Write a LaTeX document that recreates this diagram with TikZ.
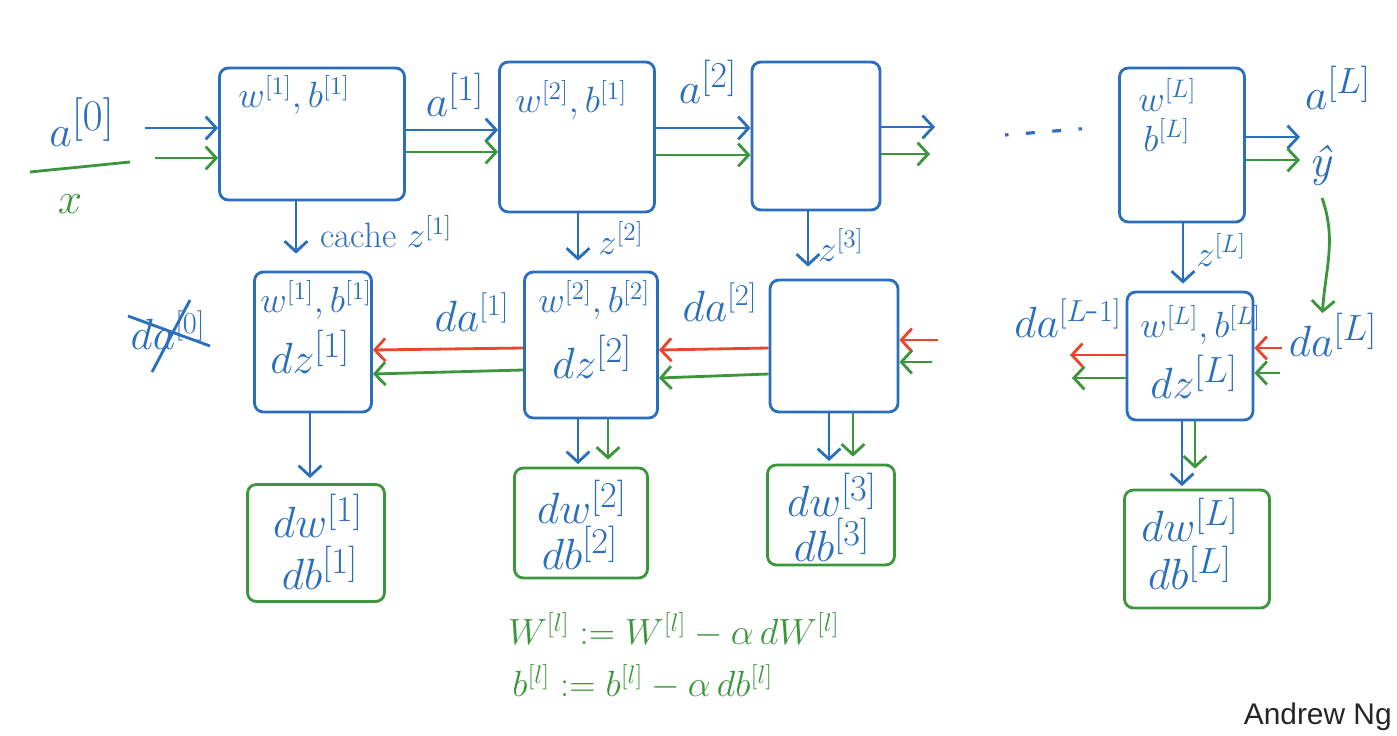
\documentclass[tikz,border=0pt]{standalone}
\usepackage{fontspec}
\newfontfamily\ngfont{Liberation Sans}
\usetikzlibrary{arrows.meta}
\definecolor{nblue}{RGB}{42,110,190}
\definecolor{ngreen}{RGB}{60,150,60}
\definecolor{nred}{RGB}{232,70,45}
\tikzset{
  bbox/.style={draw=nblue, line width=1.6pt, rounded corners=5pt, inner sep=0pt},
  gbox/.style={draw=ngreen, line width=1.6pt, rounded corners=5pt, inner sep=0pt},
  tip/.style={-{Straight Barb[length=6pt,width=13pt]}},
  barrow/.style={tip, draw=nblue, line width=1.6pt},
  garrow/.style={tip, draw=ngreen, line width=1.6pt},
  rarrow/.style={tip, draw=nred, line width=1.6pt},
  bt/.style={text=nblue, inner sep=0pt, font=\fontsize{22}{26}\selectfont},
  btl/.style={text=nblue, inner sep=0pt, font=\fontsize{28}{32}\selectfont},
  gt/.style={text=ngreen, inner sep=0pt, font=\fontsize{22}{26}\selectfont},
}
\begin{document}
\begin{tikzpicture}[x=0.02cm,y=-0.02cm]
\fill[white] (0,0) rectangle (1397,736);
\useasboundingbox (0,0) rectangle (1397,736);

% forward boxes
\node[bbox, minimum width=3.7cm, minimum height=2.64cm] (F1) at (312,134) {};
\node[bbox, minimum width=3.1cm, minimum height=3.0cm] (F2) at (577,137) {};
\node[bbox, minimum width=2.56cm, minimum height=2.96cm] (F3) at (816,136) {};
\node[bbox, minimum width=2.5cm, minimum height=3.08cm] (FL) at (1182,145) {};
% backward boxes
\node[bbox, minimum width=2.34cm, minimum height=2.8cm] (B1) at (313,342) {};
\node[bbox, minimum width=2.66cm, minimum height=2.92cm] (B2) at (591,345) {};
\node[bbox, minimum width=2.56cm, minimum height=2.64cm] (B3) at (834,346) {};
\node[bbox, minimum width=2.52cm, minimum height=2.56cm] (BL) at (1190,356) {};
% gradient boxes
\node[gbox, minimum width=2.74cm, minimum height=2.34cm] (G1) at (316,543) {};
\node[gbox, minimum width=2.66cm, minimum height=2.2cm] (G2) at (581,523) {};
\node[gbox, minimum width=2.54cm, minimum height=2.0cm] (G3) at (831,515) {};
\node[gbox, minimum width=2.9cm, minimum height=2.36cm] (GL) at (1197,549) {};

% box texts
\node[bt, anchor=west] (tF1) at (238,95) {$w^{[1]}, b^{[1]}$};
\node[bt, anchor=west] (tF2) at (515,100) {$w^{[2]}, b^{[1]}$};
\node[bt, anchor=west] (tFLw) at (1138,95) {$w^{[L]}$};
\node[bt, anchor=west] (tFLb) at (1143,135) {$b^{[L]}$};
\node[bt, anchor=west] (tB1) at (260,300) {$w^{[1]}, b^{[1]}$};
\node[btl, anchor=west] (dB1) at (270,352) {$dz^{[1]}$};
\node[bt, anchor=west] (tB2) at (538,300) {$w^{[2]}, b^{[2]}$};
\node[btl, anchor=west] (dB2) at (552,357) {$dz^{[2]}$};
\node[bt, anchor=west] (tBL) at (1140,325) {$w^{[L]}, b^{[L]}$};
\node[btl, anchor=west] (dBL) at (1150,377) {$dz^{[L]}$};
\node[btl] (w1) at (318,516) {$dw^{[1]}$};
\node[btl] (b1) at (320,568) {$db^{[1]}$};
\node[btl] (w2) at (582,502) {$dw^{[2]}$};
\node[btl] (b2) at (580,548) {$db^{[2]}$};
\node[btl] (w3) at (832,495) {$dw^{[3]}$};
\node[btl] (b3) at (832,540) {$db^{[3]}$};
\node[btl] (wL) at (1190,520) {$dw^{[L]}$};
\node[btl] (bL) at (1190,568) {$db^{[L]}$};

% input
\node[text=nblue, inner sep=0pt, font=\fontsize{36}{40}\selectfont] (A0) at (82,122) {$a^{[0]}$};
\draw[ngreen, line width=1.6pt] (30,172) -- (130,162);
\node[text=ngreen, inner sep=0pt, font=\fontsize{30}{34}\selectfont] (X) at (70,204) {$x$};
\coordinate (in0b) at (145,128);
\coordinate (in0g) at (155,158);
\draw[barrow] (in0b) -- (F1.west |- in0b);
\draw[garrow] (in0g) -- (F1.west |- in0g);

% forward arrows
\draw[barrow] (F1.east |- 0,130) -- (F2.west |- 0,130);
\draw[garrow] (F1.east |- 0,152) -- (F2.west |- 0,152);
\draw[barrow] (F2.east |- 0,128) -- (F3.west |- 0,128);
\draw[garrow] (F2.east |- 0,155) -- (F3.west |- 0,155);
\coordinate (o3b) at (935,127);
\coordinate (o3g) at (930,154);
\draw[barrow] (F3.east |- o3b) -- (o3b);
\draw[garrow] (F3.east |- o3g) -- (o3g);
\node[text=nblue, inner sep=0pt, font=\fontsize{30}{34}\selectfont] (a1) at (455,95) {$a^{[1]}$};
\node[text=nblue, inner sep=0pt, font=\fontsize{30}{34}\selectfont] (a2) at (708,82) {$a^{[2]}$};
\draw[nblue, line width=1.8pt, dash pattern=on 2pt off 10pt on 5pt off 10pt on 5pt off 10pt on 2pt off 30pt] (1005,135) -- (1092,128);

% output
\coordinate (oLb) at (1300,137);
\coordinate (oLg) at (1300,160);
\draw[barrow] (FL.east |- oLb) -- (oLb);
\draw[garrow] (FL.east |- oLg) -- (oLg);
\node[text=nblue, inner sep=0pt, font=\fontsize{30}{34}\selectfont] (aL) at (1338,88) {$a^{[L]}$};
\node[text=nblue, inner sep=0pt, font=\itshape\fontsize{26}{30}\selectfont] (yh) at (1320,166) {ŷ};
\node[text=nblue, inner sep=0pt, font=\fontsize{32}{36}\selectfont] (daL) at (1333,335) {$da^{[L]}$};
\draw[garrow] (1322,198) coordinate (cs) .. controls (1337,240) and (1325,270) .. ([xshift=-6pt]daL.north);

% cache arrows
\draw[barrow, shorten >=0.34cm] (F1.south -| 296,0) -- (B1.north -| 296,0);
\draw[barrow, shorten >=0.2cm] (F2.south -| 578,0) -- (B2.north -| 578,0);
\draw[barrow, shorten >=0.24cm] (F3.south -| 808,0) -- (B3.north -| 808,0);
\draw[barrow, shorten >=0.14cm] (FL.south -| 1183,0) -- (BL.north -| 1183,0);
\node[text=nblue, inner sep=0pt, font=\fontsize{20}{24}\selectfont, anchor=west] (c1) at (320,232) {cache $z^{[1]}$};
\node[bt, anchor=west] (z2) at (598,238) {$z^{[2]}$};
\node[bt, anchor=west] (z3) at (818,245) {$z^{[3]}$};
\node[bt, anchor=west] (zL) at (1196,250) {$z^{[L]}$};

% backward arrows
\draw[rarrow] (B2.west |- 0,348) -- (B1.east |- 0,350);
\draw[garrow] (B2.west |- 0,370) -- (B1.east |- 0,374);
\draw[rarrow] (B3.west |- 0,348) -- (B2.east |- 0,350);
\draw[garrow] (B3.west |- 0,374) -- (B2.east |- 0,378);
\coordinate (i3r) at (938,340);
\coordinate (i3g) at (932,362);
\draw[rarrow] (i3r) -- (B3.east |- i3r);
\draw[garrow] (i3g) -- (B3.east |- i3g);
\coordinate (oBr) at (1070,355);
\coordinate (oBg) at (1072,378);
\draw[rarrow] (BL.west |- oBr) -- (oBr);
\draw[garrow] (BL.west |- oBg) -- (oBg);
\coordinate (iLr) at (1282,348);
\coordinate (iLg) at (1280,373);
\draw[rarrow] (iLr) -- (BL.east |- iLr);
\draw[garrow] (iLg) -- (BL.east |- iLg);
\node[text=nblue, inner sep=0pt, font=\fontsize{26}{30}\selectfont] (da1) at (472,312) {$da^{[1]}$};
\node[text=nblue, inner sep=0pt, font=\fontsize{26}{30}\selectfont] (da2) at (720,302) {$da^{[2]}$};
\node[text=nblue, inner sep=0pt, font=\fontsize{23}{27}\selectfont] (daLm) at (1068,318) {$da^{[L\mbox{-}1]}$};
\node[text=nblue, inner sep=0pt, font=\fontsize{26}{30}\selectfont] (da0) at (168,330) {$da^{[0]}$};
\draw[nblue, line width=1.6pt] (128,316) -- (210,346);
\draw[nblue, line width=1.6pt] (152,372) -- (190,300);

% gradient arrows
\draw[barrow, shorten >=0.1cm] (B1.south -| 310,0) -- (G1.north -| 310,0);
\draw[barrow, shorten >=0.05cm] (B2.south -| 578,0) -- (G2.north -| 578,0);
\draw[garrow, shorten >=0.14cm] (B2.south -| 608,0) -- (G2.north -| 608,0);
\draw[barrow, shorten >=0.05cm] (B3.south -| 829,0) -- (G3.north -| 829,0);
\draw[garrow, shorten >=0.14cm] (B3.south -| 853,0) -- (G3.north -| 853,0);
\draw[barrow, shorten >=0.05cm] (BL.south -| 1182,0) -- (GL.north -| 1182,0);
\draw[garrow, shorten >=0.4cm] (BL.south -| 1195,0) -- (GL.north -| 1195,0);

% update rules
\node[gt, anchor=west] (eq1) at (508,630) {$W^{[l]} := W^{[l]} - \alpha\, dW^{[l]}$};
\node[gt, anchor=west] (eq2) at (512,682) {$b^{[l]} := b^{[l]} - \alpha\, db^{[l]}$};

\node[anchor=east, inner sep=0pt, text=black!85, font=\ngfont\fontsize{17}{20}\selectfont] (ng) at (1392,717) {Andrew Ng};
\end{tikzpicture}
\end{document}
